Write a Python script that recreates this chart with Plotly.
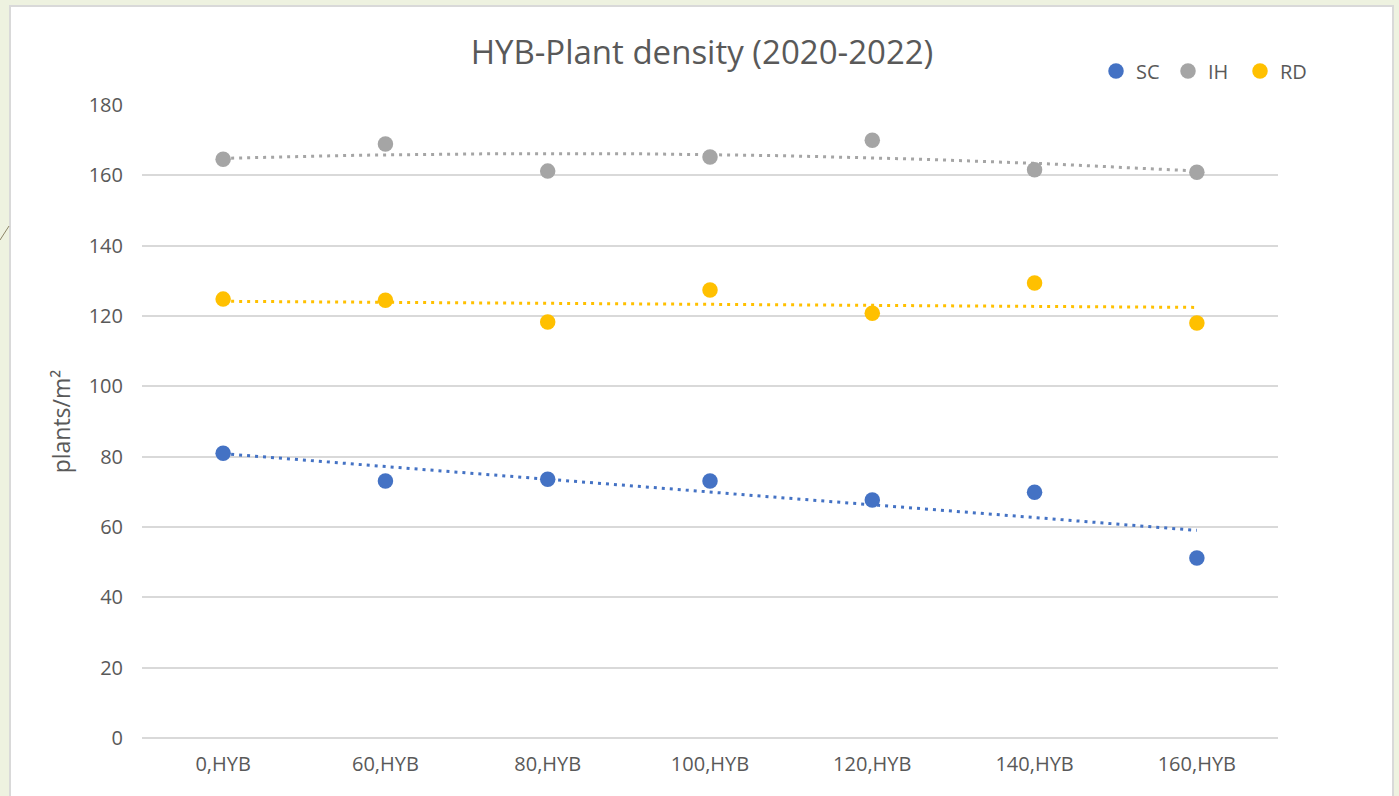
import numpy as np
import plotly.graph_objects as go

categories = ["0,HYB", "60,HYB", "80,HYB", "100,HYB", "120,HYB", "140,HYB", "160,HYB"]
sc_values = [81.0, 73.1, 73.6, 73.1, 67.7, 69.9, 51.2]
ih_values = [164.6, 168.9, 161.2, 165.2, 170.0, 161.6, 160.9]
rd_values = [124.8, 124.5, 118.3, 127.4, 120.8, 129.4, 118.0]
y_ticks = [0, 20, 40, 60, 80, 100, 120, 140, 160, 180]

series = [
    ("SC", sc_values, "#4472C4", 1),
    ("IH", ih_values, "#A5A5A5", 2),
    ("RD", rd_values, "#FFC000", 1),
]

FONT = "Open Sans"
TXT = "#595959"

x_idx = np.arange(len(categories))
x_fine = np.linspace(0, len(categories) - 1, 200)

fig = go.Figure()
for name, vals, color, order in series:
    coef = np.polyfit(x_idx, vals, order)
    fig.add_trace(go.Scatter(
        x=x_fine, y=np.polyval(coef, x_fine), mode="lines",
        line=dict(color=color, width=3, dash="3px,5px"),
        showlegend=False, hoverinfo="skip"))
for name, vals, color, order in series:
    fig.add_trace(go.Scatter(
        x=x_idx, y=vals, mode="markers", name=name,
        marker=dict(color=color, size=15.5, line=dict(width=0))))

L, R, T, B = 142, 121, 105, 58
W, H = 1399, 796
pw, ph = W - L - R, H - T - B

def px2x(p):
    return (p - L) / pw

def px2y(p):
    return (H - B - p) / ph

shapes = [
    dict(type="rect", xref="paper", yref="paper", layer="below",
         x0=px2x(10), x1=px2x(1393), y0=px2y(805), y1=px2y(6),
         fillcolor="white", line=dict(color="#D9D9D9", width=2)),
    dict(type="line", xref="paper", yref="paper", layer="below",
         x0=px2x(0), x1=px2x(9), y0=px2y(240), y1=px2y(226),
         line=dict(color="#8C8466", width=1)),
]

fig.update_layout(
    width=W, height=H,
    margin=dict(l=L, r=R, t=T, b=B),
    paper_bgcolor="#EEF2E0",
    plot_bgcolor="white",
    shapes=shapes,
    title=dict(text="HYB-Plant density (2020-2022)", x=702 / W,
               xanchor="center", y=1 - 52 / H, yanchor="middle",
               font=dict(family=FONT, size=33, color=TXT)),
    font=dict(family=FONT, color=TXT),
    xaxis=dict(range=[-0.5, 6.5], tickvals=list(x_idx), ticktext=categories,
               showgrid=False, zeroline=False, showline=False, ticks="outside",
               ticklen=8, tickcolor="rgba(0,0,0,0)",
               tickfont=dict(size=20, color=TXT), fixedrange=True),
    yaxis=dict(range=[0, 180], tickvals=y_ticks, showgrid=True, gridcolor="#D9D9D9",
               gridwidth=1.5, zeroline=True, zerolinecolor="#D9D9D9", zerolinewidth=1.5,
               showline=False, ticks="outside",
               ticklen=14, tickcolor="rgba(0,0,0,0)",
               tickfont=dict(size=20, color=TXT),
               title=dict(text="plants/m²", font=dict(size=23, color=TXT), standoff=11)),
    legend=dict(orientation="h", x=px2x(1096), y=px2y(71), xanchor="left", yanchor="middle",
                bgcolor="rgba(0,0,0,0)", font=dict(size=20, color=TXT),
                itemwidth=30, tracegroupgap=0, entrywidth=27),
    hovermode=False,
)

fig.write_html("out.html", config={"displayModeBar": False},
               post_script="document.body.style.margin='0';")
